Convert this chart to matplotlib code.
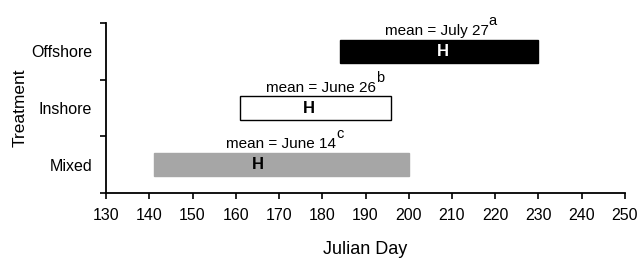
import matplotlib
matplotlib.use("Agg")
import matplotlib.pyplot as plt

# treatment windows (Julian day) and mean arrival day
treatments = ["Mixed", "Inshore", "Offshore"]
start_day = [141, 161, 184]
end_day = [200, 196, 230]
mean_day = [165, 177, 208]
mean_text = ["June 14", "June 26", "July 27"]
letters = ["c", "b", "a"]
x_ticks = list(range(130, 251, 10))

bar_colors = ["#a6a6a6", "white", "black"]
h_colors = ["black", "black", "white"]
label_shift = [5.5, 2.8, -1.5]   # nudge of the "mean = ..." captions

plt.rcParams["font.family"] = ["Liberation Sans", "DejaVu Sans"]

fig = plt.figure(figsize=(6.39, 2.59), dpi=100)
ax = fig.add_axes([0.166, 0.255, 0.812, 0.656])

for i, name in enumerate(treatments):
    y = i + 0.5
    ax.barh(y, end_day[i] - start_day[i], left=start_day[i], height=0.41,
            color=bar_colors[i], edgecolor="black" if i == 1 else bar_colors[i],
            linewidth=1.0)
    ax.text(mean_day[i], y, "H", ha="center", va="center",
            fontsize=12, fontweight="bold", color=h_colors[i])
    t = ax.text(mean_day[i] + label_shift[i], y + 0.36,
                f"mean = {mean_text[i]}", ha="center", va="center",
                fontsize=11)
    ax.annotate(letters[i], xy=(1.0, 0.7), xycoords=t, ha="left",
                va="bottom", fontsize=10.5)

ax.set_xlim(130, 250)
ax.set_ylim(0, 3)
ax.set_xticks(x_ticks)
ax.set_yticks([0, 1, 2, 3])
ax.set_yticklabels([])
ax.set_yticks([0.5, 1.5, 2.5], minor=True)
ax.set_yticklabels(treatments, minor=True)
ax.tick_params(axis="y", which="minor", length=0, pad=10, labelsize=11.5)
ax.tick_params(axis="both", which="major", direction="out", length=4,
               width=1.2, labelsize=11.5)
ax.tick_params(axis="x", pad=7)

for s in ["top", "right"]:
    ax.spines[s].set_visible(False)
for s in ["left", "bottom"]:
    ax.spines[s].set_linewidth(1.3)

ax.set_xlabel("Julian Day", fontsize=13, va="top")
ax.xaxis.set_label_coords(0.5, -0.28)
ax.set_ylabel("Treatment", fontsize=12.5)
ax.yaxis.set_label_coords(-0.152, 0.5)

fig.savefig("out.png", dpi=100)
